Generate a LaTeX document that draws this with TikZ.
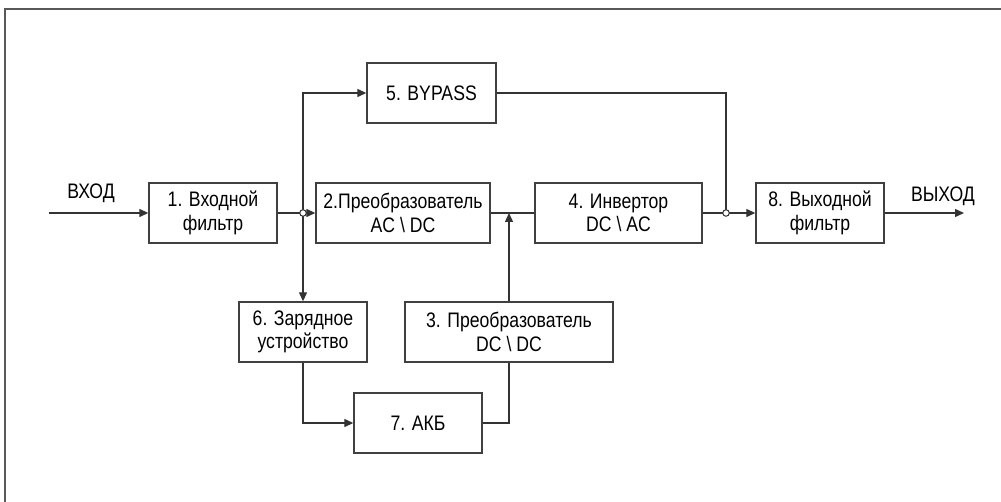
\documentclass[tikz,border=0pt]{standalone}
\usepackage{fontspec}
\setmainfont{Liberation Sans}[FakeStretch=0.84]
\usetikzlibrary{arrows.meta}

\begin{document}
\begin{tikzpicture}[
		x=1pt, y=-1pt,
		line width=1.3pt, draw=black!80,
		every node/.style={font=\fontsize{21}{23.5}\selectfont, align=center},
		blok/.style={draw=black!75, line width=1.4pt, minimum height=60pt, inner sep=0pt},
		arr/.style={-{Triangle[length=9pt,width=8pt]}},
		uzel/.style={circle, draw=black!80, fill=white, line width=1pt, inner sep=0pt, minimum size=6.5pt}
	]
	\useasboundingbox (0,0) rectangle (1001,502);
	% frame
	\draw[black!65, line width=2pt] (5,510) -- (5,9) -- (1010,9);

	\node[blok, minimum width=128pt] (filtrin) at (213,213) {1. Входной\\фильтр};
	\node[blok, minimum width=174pt] (acdc) at (403,213) {2.Преобразователь\\AC \textbackslash{} DC};
	\node[blok, minimum width=167pt] (invert) at (618.5,213) {4. Инвертор\\DC \textbackslash{} AC};
	\node[blok, minimum width=128pt] (filtrout) at (820,213) {8. Выходной\\фильтр};
	\node[blok, minimum width=129pt] (bypass) at (431.5,93) {5. BYPASS};
	\node[blok, minimum width=128pt] (zaryad) at (303,332) {6. Зарядное\\устройство};
	\node[blok, minimum width=208pt] (dcdc) at (509,332) {3. Преобразователь\\DC \textbackslash{} DC};
	\node[blok, minimum width=128pt] (akb) at (418,423) {7. АКБ};

	\node (vhod) at (91,193) {ВХОД};
	\node (vyhod) at (943,196) {ВЫХОД};
	\coordinate (in) at (49,213);
	\coordinate (out) at (964,213);
	\coordinate (j1) at (303,213);
	\coordinate (j2) at (726,213);

	\draw[arr] (in) -- (filtrin.west);
	\draw (filtrin.east) -- (j1);
	\draw[arr] (j1) -- (acdc.west);
	\draw[arr] (j1) |- (bypass.west);
	\draw[arr] (j1) -- (zaryad.north);
	\draw (acdc.east) -- (invert.west);
	\draw[arr] (dcdc.north) -- (dcdc.north |- acdc.east);
	\draw (invert.east) -- (j2);
	\draw (bypass.east) -| (j2);
	\draw[arr] (j2) -- (filtrout.west);
	\draw[arr] (filtrout.east) -- (out);
	\draw[arr] (zaryad.south) |- (akb.west);
	\draw (akb.east) -| (dcdc.south);

	\node[uzel] at (j1) {};
	\node[uzel] at (j2) {};
\end{tikzpicture}
\end{document}
